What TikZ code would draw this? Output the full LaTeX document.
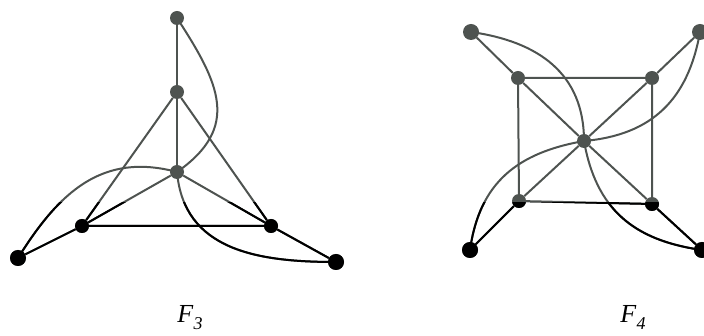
\documentclass[tikz,border=0pt]{standalone}
\usepackage{fontspec}
\setmainfont{Liberation Serif}
\usetikzlibrary{positioning}
\definecolor{grigio}{RGB}{78,83,80}
\tikzset{
    vtx/.style={circle,fill,inner sep=0pt,minimum size=14pt},
    bigvtx/.style={vtx,minimum size=16pt},
    lato/.style={line width=2pt},
    etichetta/.style={anchor=base,inner sep=0pt}
}
\newcommand{\disegnagrafi}{%
        %vertici F3
        \node[vtx] (a) at (177,18) {};
        \node[vtx] (b) at (177,92) {};
        \node[vtx] (c) at (177,172) {};
        \node[vtx] (s) at (82,226) {};
        \node[vtx] (d) at (271,226) {};
        \node[bigvtx] (ss) at (18,258) {};
        \node[bigvtx] (dd) at (336,262) {};
        %lati F3
        \draw[lato] (a)--(b)--(c);
        \draw[lato] (s)--(b)--(d)--(s);
        \draw[lato] (s)--(c)--(d);
        \draw[lato] (ss)--(s) (d)--(dd);
        \draw[lato] (a.center) to[out=-57,in=35,looseness=1.3] (c.center);
        \draw[lato] (ss.center) to[out=58,in=165,looseness=1.1] (c.center);
        \draw[lato] (c.center) to[out=-85,in=180,looseness=1.1] (dd.center);
        %vertici F4
        \node[bigvtx] (p1) at (471,32) {};
        \node[bigvtx] (p2) at (700,32) {};
        \node[vtx] (q1) at (518,78) {};
        \node[vtx] (q2) at (652,78) {};
        \node[vtx] (o) at (584,141) {};
        \node[vtx] (q3) at (519,201) {};
        \node[vtx] (q4) at (652,204) {};
        \node[bigvtx] (p3) at (470,250) {};
        \node[bigvtx] (p4) at (702,250) {};
        %lati F4
        \draw[lato] (q1)--(q2)--(q4)--(q3)--(q1);
        \draw[lato] (q1)--(o)--(q4) (q2)--(o)--(q3);
        \draw[lato] (p1)--(q1) (p2)--(q2) (p3)--(q3) (p4)--(q4);
        \draw[lato] (p1.center) to[out=-8,in=90,looseness=1.1] (o.center);
        \draw[lato] (p2.center) to[out=-100,in=5,looseness=1.1] (o.center);
        \draw[lato] (p3.center) to[out=82,in=190,looseness=1.1] (o.center);
        \draw[lato] (p4.center) to[out=172,in=-80,looseness=1.1] (o.center);
}

\begin{document}
\begin{tikzpicture}[x=1pt,y=-1pt]
        \useasboundingbox (0,0) rectangle (704,336);
        %grafi in grigio
        \begin{scope}[color=grigio]
            \disegnagrafi
        \end{scope}
        %parte bassa in nero
        \begin{scope}[color=black]
            \clip (0,203) rectangle (704,336);
            \disegnagrafi
        \end{scope}
        %nomi
        \node[etichetta] (f3) at (190,323) {\fontsize{26}{28}\selectfont\textit{F}\raisebox{-0.25em}{\fontsize{18}{20}\selectfont\textit{3}}};
        \node[etichetta] (f4) at (633,323) {\fontsize{26}{28}\selectfont\textit{F}\raisebox{-0.25em}{\fontsize{18}{20}\selectfont\textit{4}}};
\end{tikzpicture}
\end{document}
